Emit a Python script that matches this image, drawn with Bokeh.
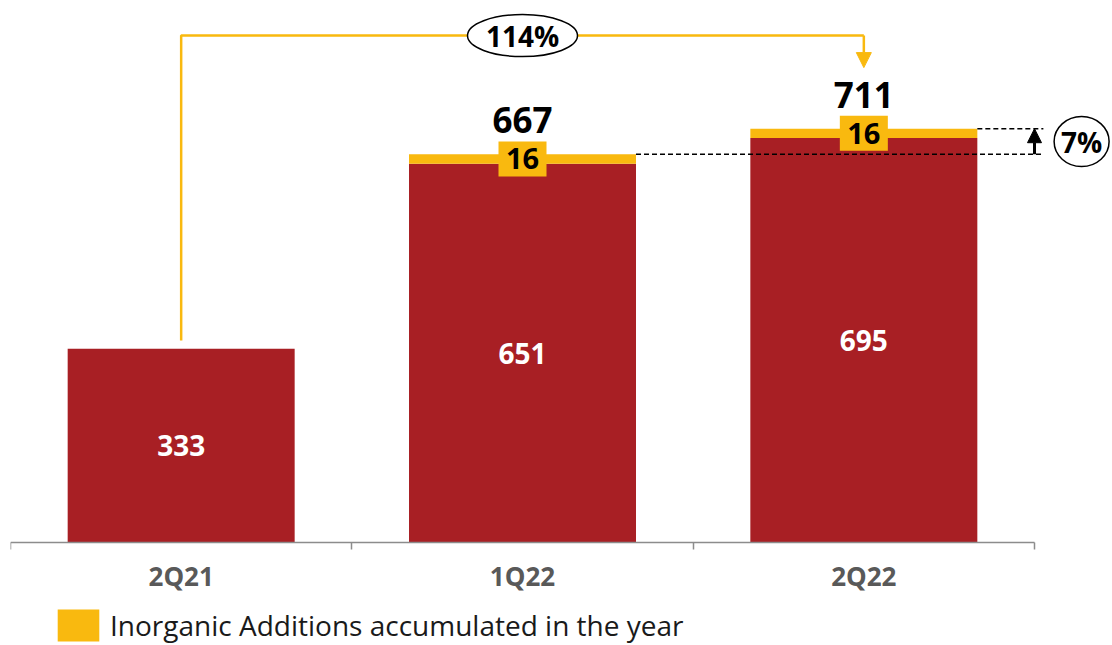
from bokeh.plotting import figure
from bokeh.models import (ColumnDataSource, Range1d, FixedTicker, Legend,
                          LegendItem, Arrow, NormalHead)
from bokeh.core.properties import value
from bokeh.embed import file_html
from bokeh.resources import INLINE

# ---------------- data ----------------
categories = ["2Q21", "1Q22", "2Q22"]
organic = [333, 651, 695]
inorganic = [0, 16, 16]
totals = [333, 667, 711]
yoy_growth = "114%"
qoq_growth = "7%"
legend_label = "Inorganic Additions accumulated in the year"

# ---------------- style ----------------
RED = "#A81F24"
YELLOW = "#F9B90F"
AXIS_GREY = "#8C8C8C"
FONT = "Open Sans"
BAR_W = 0.665

xs = [i + 0.5 for i in range(len(categories))]
tops = [o + n for o, n in zip(organic, inorganic)]

src = ColumnDataSource(dict(
    x=xs, organic=organic, top=tops,
    org_mid=[o / 2 for o in organic],
    org_lbl=[str(o) for o in organic],
))
inorg_idx = [i for i, n in enumerate(inorganic) if n > 0]
isrc = ColumnDataSource(dict(
    x=[xs[i] for i in inorg_idx],
    mid=[organic[i] + inorganic[i] / 2 for i in inorg_idx],
    lbl=[str(inorganic[i]) for i in inorg_idx],
    total=[totals[i] for i in inorg_idx],
    total_lbl=[str(totals[i]) for i in inorg_idx],
))

p = figure(width=1112, height=645,
           x_range=Range1d(0, 3.2285), y_range=Range1d(-177.0, 931.3),
           output_backend="svg", toolbar_location=None,
           y_axis_location=None,
           min_border_left=10, min_border_right=0,
           min_border_top=0, min_border_bottom=0)
p.outline_line_color = None
p.grid.visible = False
p.background_fill_color = "white"

# bars
p.vbar(x="x", bottom=0, top="organic", width=BAR_W, source=src,
       fill_color=RED, line_color=None)
yellow = p.vbar(x="x", bottom="organic", top="top", width=BAR_W, source=src,
                fill_color=YELLOW, line_color=None)

# inner labels
p.text(x="x", y="org_mid", text="org_lbl", source=src,
       text_align="center", text_baseline="middle", text_color="white",
       text_font=value(FONT), text_font_style="bold", text_font_size="28px")

# dashed reference lines (qoq)
x_dash_end = 3.026
p.segment(x0=[xs[1] + BAR_W / 2, xs[2] + BAR_W / 2], y0=[totals[1], totals[2]],
          x1=[x_dash_end, x_dash_end], y1=[totals[1], totals[2]],
          line_color="black", line_width=1.5, line_dash="5 3")

# inorganic boxes
p.rect(x="x", y="mid", width=48, height=35, width_units="screen",
       height_units="screen", source=isrc, fill_color=YELLOW, line_color=None)
p.text(x="x", y="mid", text="lbl", source=isrc,
       text_align="center", text_baseline="middle", text_color="black",
       text_font=value(FONT), text_font_style="bold", text_font_size="29px")

# totals
p.text(x="x", y="total", text="total_lbl", source=isrc, y_offset=-21,
       text_align="center", text_baseline="bottom", text_color="black",
       text_font=value(FONT), text_font_style="bold", text_font_size="35px")

# yoy bracket
y_start = totals[0] + 14
y_top = 871
y_tip = totals[2] + 105
p.line(x=[xs[0], xs[0], xs[2]], y=[y_start, y_top, y_top],
       line_color=YELLOW, line_width=2.5)
p.add_layout(Arrow(end=NormalHead(size=15, fill_color=YELLOW, line_color=YELLOW),
                   x_start=xs[2], y_start=y_top, x_end=xs[2], y_end=y_tip,
                   line_color=YELLOW, line_width=2.5))
p.ellipse(x=[(xs[0] + xs[2]) / 2], y=[y_top], width=110, height=42,
          width_units="screen", height_units="screen",
          fill_color="white", line_color="black", line_width=1.5)
p.text(x=[(xs[0] + xs[2]) / 2], y=[y_top], text=[yoy_growth],
       text_align="center", text_baseline="middle", text_color="black",
       text_font=value(FONT), text_font_style="bold", text_font_size="28px")

# qoq arrow
x_arrow = 3.0
p.add_layout(Arrow(end=NormalHead(size=14, fill_color="black", line_color="black"),
                   x_start=x_arrow, y_start=totals[1], x_end=x_arrow, y_end=totals[2],
                   line_color="black", line_width=3))
x_q = 3.138
y_q = (totals[1] + totals[2]) / 2
p.ellipse(x=[x_q], y=[y_q], width=55, height=50,
          width_units="screen", height_units="screen",
          fill_color="white", line_color="black", line_width=1.5)
p.text(x=[x_q], y=[y_q], text=[qoq_growth],
       text_align="center", text_baseline="middle", text_color="black",
       text_font=value(FONT), text_font_style="bold", text_font_size="28px")

# axis (drawn at y=0 inside the frame)
ax = p.xaxis[0]
ax.fixed_location = 0
ax.ticker = FixedTicker(ticks=xs, minor_ticks=[0, 1, 2, 3])
ax.bounds = (0, 3)
ax.major_label_overrides = {x: c for x, c in zip(xs, categories)}
ax.major_tick_in = 0
ax.major_tick_out = 0
ax.minor_tick_in = 0
ax.minor_tick_out = 7
ax.minor_tick_line_color = AXIS_GREY
ax.minor_tick_line_width = 1.5
ax.axis_line_color = AXIS_GREY
ax.axis_line_width = 1.5
ax.major_label_text_font = FONT
ax.major_label_text_font_style = "bold"
ax.major_label_text_font_size = "26px"
ax.major_label_text_color = "#595959"
ax.major_label_standoff = 9

# legend
legend = Legend(items=[LegendItem(label=legend_label, renderers=[yellow])],
                location=(42, 0), orientation="horizontal",
                glyph_width=52, glyph_height=40, label_height=40,
                label_text_font=FONT, label_text_font_size="28px",
                label_text_color="#1A1A1A", label_standoff=6,
                border_line_color=None, background_fill_alpha=0,
                margin=0, padding=0)
p.add_layout(legend)

open("out.html", "w").write(file_html(p, INLINE))
